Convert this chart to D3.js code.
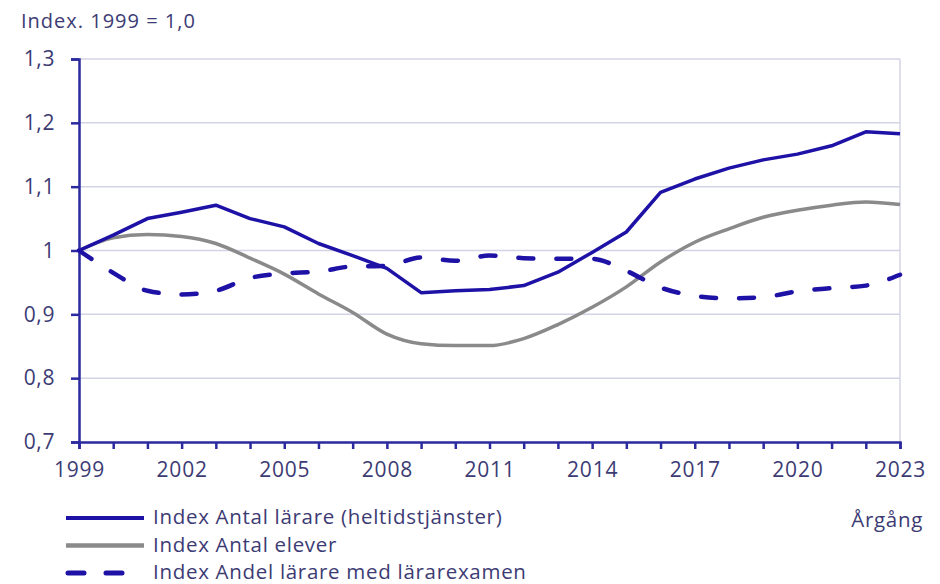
<!DOCTYPE html>
<html>
<head>
<meta charset="utf-8">
<script src="https://cdn.jsdelivr.net/npm/d3@7"></script>
<style>
  html, body { margin: 0; padding: 0; background: #fff; }
  svg { display: block; font-family: 'Open Sans', sans-serif; }
</style>
</head>
<body>
<div id="chart"></div>
<script>
// years on the x axis
const years = d3.range(1999, 2024)
const xTickYears = [1999, 2002, 2005, 2008, 2011, 2014, 2017, 2020, 2023]
const yTicks = [0.7, 0.8, 0.9, 1.0, 1.1, 1.2, 1.3]
const yTickLabels = ['0,7', '0,8', '0,9', '1', '1,1', '1,2', '1,3']

// Index Antal lärare (heltidstjänster)
const larare = [1.0, 1.024, 1.05, 1.06, 1.071, 1.05, 1.037, 1.011, 0.992, 0.972,
  0.934, 0.937, 0.939, 0.945, 0.966, 0.997, 1.029, 1.091, 1.112, 1.129,
  1.142, 1.151, 1.164, 1.186, 1.183]
// Index Antal elever
const elever = [1.0, 1.02, 1.025, 1.022, 1.011, 0.988, 0.963, 0.932, 0.903, 0.869,
  0.854, 0.851, 0.851, 0.862, 0.884, 0.911, 0.943, 0.982, 1.013, 1.034,
  1.052, 1.063, 1.071, 1.076, 1.072]
// Index Andel lärare med lärarexamen
const examen = [1.0, 0.965, 0.937, 0.931, 0.937, 0.957, 0.964, 0.967, 0.975, 0.976,
  0.989, 0.984, 0.992, 0.988, 0.987, 0.987, 0.968, 0.942, 0.929, 0.925,
  0.927, 0.936, 0.941, 0.945, 0.962]

const seriesNames = [
  'Index Antal lärare (heltidstjänster)',
  'Index Antal elever',
  'Index Andel lärare med lärarexamen',
]

const W = 940, H = 584
const margin = { left: 79, right: 40, top: 59, bottom: 142 }
const textColor = '#3c3b74'
const axisColor = '#2b2a9e'
const blue = '#1e12a6'
const grey = '#8a8a8a'

const svg = d3.select('#chart').append('svg')
  .attr('width', W).attr('height', H)

const x = d3.scaleLinear().domain([1999, 2023]).range([margin.left, W - margin.right])
const y = d3.scaleLinear().domain([0.7, 1.3]).range([H - margin.bottom, margin.top])

// title
svg.append('text')
  .attr('x', 21).attr('y', 28)
  .attr('fill', textColor).attr('font-size', 20)
  .attr('letter-spacing', 1)
  .text('Index. 1999 = 1,0')

// grid lines
svg.append('g').selectAll('line')
  .data(yTicks.slice(1))
  .join('line')
  .attr('x1', x(1999)).attr('x2', x(2023))
  .attr('y1', d => y(d)).attr('y2', d => y(d))
  .attr('stroke', '#d3d3e6').attr('stroke-width', 1.5)

// right border
svg.append('line')
  .attr('x1', x(2023)).attr('x2', x(2023))
  .attr('y1', y(1.3)).attr('y2', y(0.7))
  .attr('stroke', '#d3d3e6').attr('stroke-width', 1.5)

// y axis
const yAxis = d3.axisLeft(y)
  .tickValues(yTicks)
  .tickFormat((d, i) => yTickLabels[i])
  .tickSize(8).tickPadding(16)
const gy = svg.append('g')
  .attr('transform', `translate(${x(1999)},0)`)
  .call(yAxis)
gy.select('.domain').attr('stroke', axisColor).attr('stroke-width', 2.5)
gy.selectAll('.tick line').attr('stroke', axisColor).attr('stroke-width', 2.5)
gy.selectAll('.tick text')
  .attr('fill', textColor).attr('font-size', 21)
  .attr('letter-spacing', 0.6)
  .attr('font-family', 'Open Sans, sans-serif')

// x axis
const xAxis = d3.axisBottom(x)
  .tickValues(years)
  .tickFormat(d => xTickYears.includes(d) ? String(d) : '')
  .tickSize(7).tickPadding(13)
const gx = svg.append('g')
  .attr('transform', `translate(0,${y(0.7)})`)
  .call(xAxis)
gx.select('.domain').attr('stroke', axisColor).attr('stroke-width', 2.5)
gx.selectAll('.tick line').attr('stroke', axisColor).attr('stroke-width', 2.5)
gx.selectAll('.tick text')
  .attr('fill', textColor).attr('font-size', 21)
  .attr('letter-spacing', 0.8)
  .attr('font-family', 'Open Sans, sans-serif')

// series lines
const lineLinear = d3.line()
  .x((d, i) => x(years[i]))
  .y(d => y(d))
const lineSmooth = d3.line()
  .x((d, i) => x(years[i]))
  .y(d => y(d))
  .curve(d3.curveMonotoneX)

svg.append('path')
  .datum(elever)
  .attr('d', lineSmooth)
  .attr('fill', 'none').attr('stroke', grey).attr('stroke-width', 3.5)

svg.append('path')
  .datum(examen)
  .attr('d', lineSmooth)
  .attr('fill', 'none').attr('stroke', blue).attr('stroke-width', 4.5)
  .attr('stroke-dasharray', '15,23').attr('stroke-linecap', 'round')

svg.append('path')
  .datum(larare)
  .attr('d', lineLinear)
  .attr('fill', 'none').attr('stroke', blue).attr('stroke-width', 3.5)
  .attr('stroke-linejoin', 'round')

// legend
const legendStyles = [
  { color: blue, width: 4, dash: null },
  { color: grey, width: 4.5, dash: null },
  { color: blue, width: 5, dash: '16,22' },
]
const lg = svg.append('g')
seriesNames.forEach((name, i) => {
  const ly = 518 + i * 27.5
  const st = legendStyles[i]
  const ln = lg.append('line')
    .attr('x1', st.dash ? 68 : 66).attr('x2', 144)
    .attr('y1', ly).attr('y2', ly)
    .attr('stroke', st.color).attr('stroke-width', st.width)
    .attr('stroke-linecap', st.dash ? 'round' : 'butt')
  if (st.dash) ln.attr('stroke-dasharray', st.dash)
  lg.append('text')
    .attr('x', 153).attr('y', ly + 6)
    .attr('fill', textColor).attr('font-size', 20.5)
    .attr('letter-spacing', 0.7)
    .text(name)
})

// x axis title
svg.append('text')
  .attr('x', 923).attr('y', 527)
  .attr('text-anchor', 'end')
  .attr('fill', textColor).attr('font-size', 20.5)
  .attr('letter-spacing', 0.7)
  .text('Årgång')
</script>
</body>
</html>
